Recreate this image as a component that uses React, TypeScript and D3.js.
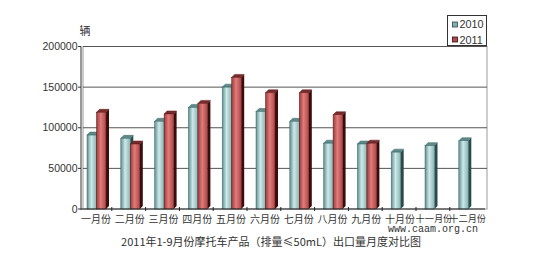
import React from "react";
import * as d3 from "d3";

const categories = [
  "一月份", "二月份", "三月份", "四月份", "五月份", "六月份",
  "七月份", "八月份", "九月份", "十月份", "十一月份", "十二月份",
];
const values2010 = [91000, 87000, 108000, 125000, 150000, 120000, 108000, 81000, 80000, 70000, 78000, 84000];
const values2011 = [119000, 80000, 117000, 130000, 162000, 143000, 143000, 116000, 81000];
const yTicks = [0, 50000, 100000, 150000, 200000];
const seriesNames = ["2010", "2011"];
const unitLabel = "辆";
const title = "2011年1-9月份摩托车产品（排量≤50mL）出口量月度对比图";
const sourceText = "www.caam.org.cn";

const W = 538;
const H = 260;
const DEPTH = 3;
const BAR_W = 9.5;

type BarProps = { x: number; top: number; base: number; kind: "teal" | "red" };

function Bar3D({ x, top, base, kind }: BarProps) {
  const d = DEPTH;
  const w = BAR_W;
  const side = kind === "teal" ? "#2c4a4a" : "#3a0c0c";
  const cap = kind === "teal" ? "#5d8a8a" : "#7a2a2a";
  const fill = kind === "teal" ? "url(#gTeal)" : "url(#gRed)";
  const stroke = kind === "teal" ? "#3d6464" : "#5a1818";
  return (
    <g>
      <polygon
        points={`${x + w},${top} ${x + w + d},${top - d} ${x + w + d},${base - d} ${x + w},${base}`}
        fill={side}
      />
      <polygon
        points={`${x},${top} ${x + d},${top - d} ${x + w + d},${top - d} ${x + w},${top}`}
        fill={cap}
        stroke={stroke}
        strokeWidth={0.5}
      />
      <rect x={x} y={top} width={w} height={base - top} fill={fill} stroke={stroke} strokeWidth={0.5} />
    </g>
  );
}

export default function App() {
  const x = d3.scaleBand<string>().domain(categories).range([80, 485.6]).padding(0);
  const y = d3.scaleLinear().domain([0, 200000]).range([209, 46.5]);
  const left = 81;
  const right = 487;
  const base = y(0);

  return (
    <svg
      width={W}
      height={H}
      style={{ position: "absolute", left: 0, top: 0, background: "#fff" }}
      fontFamily="'Liberation Sans', Arial, sans-serif"
    >
      <defs>
        <linearGradient id="gTeal" x1="0" x2="1" y1="0" y2="0">
          <stop offset="0" stopColor="#5e8e8f" />
          <stop offset="0.45" stopColor="#cfe8e8" />
          <stop offset="1" stopColor="#86b4b4" />
        </linearGradient>
        <linearGradient id="gRed" x1="0" x2="1" y1="0" y2="0">
          <stop offset="0" stopColor="#9c3a3a" />
          <stop offset="0.45" stopColor="#e07c7c" />
          <stop offset="1" stopColor="#b04646" />
        </linearGradient>
      </defs>

      {/* back wall with gridlines */}
      <rect x={left + 2} y={y(200000)} width={right - left - 2} height={base - y(200000)} fill="#fff" stroke="#999" strokeWidth={1} />
      {yTicks.filter((t) => t > 0).map((t) => (
        <line key={t} x1={left + 2} x2={right} y1={y(t)} y2={y(t)} stroke="#555" strokeWidth={1} />
      ))}

      {/* y axis */}
      <line x1={left} x2={left} y1={y(200000)} y2={base + 1} stroke="#333" strokeWidth={1} />
      {yTicks.map((t) => (
        <g key={t}>
          <line x1={left - 3} x2={left} y1={y(t)} y2={y(t)} stroke="#333" />
          <text x={left - 3.5} y={y(t)} dy="0.35em" textAnchor="end" fontSize={10.5} fill="#333">
            {t}
          </text>
        </g>
      ))}
      <text x={85} y={31} dy="0.35em" textAnchor="middle" fontSize={11} fill="#333" fontFamily="'Noto Sans CJK SC', sans-serif">
        {unitLabel}
      </text>

      {/* bars */}
      {categories.map((c, i) => {
        const bx = x(c)!;
        return (
          <g key={c}>
            <Bar3D x={bx + 7} top={y(values2010[i])} base={base} kind="teal" />
            {i < values2011.length && (
              <Bar3D x={bx + 16.5} top={y(values2011[i])} base={base} kind="red" />
            )}
          </g>
        );
      })}

      {/* x axis */}
      <line x1={left} x2={right - 2} y1={base} y2={base} stroke="#222" strokeWidth={1.2} />
      {categories.slice(1).map((c) => (
        <line key={c} x1={x(c)! - 2} x2={x(c)! - 2} y1={base - 2} y2={base + 2} stroke="#222" />
      ))}
      {categories.map((c) => (
        <text
          key={c}
          x={x(c)! + x.bandwidth() / 2 - 1}
          y={219}
          dy="0.35em"
          textAnchor="middle"
          fontSize={c.length > 3 ? 9.2 : 10}
          fill="#333"
          fontFamily="'Noto Sans CJK SC', sans-serif"
        >
          {c}
        </text>
      ))}

      {/* source and title */}
      <text x={388} y={228.5} dy="0.35em" fontSize={10} fill="#333" fontFamily="'Liberation Mono', monospace">
        {sourceText}
      </text>
      <text x={271} y={242.5} dy="0.35em" textAnchor="middle" fontSize={11} fill="#333" fontFamily="'Noto Sans CJK SC', sans-serif">
        {title}
      </text>

      {/* legend */}
      <rect x={447.5} y={15.5} width={39} height={30} fill="#fff" stroke="#333" strokeWidth={1} />
      {seriesNames.map((s, i) => (
        <g key={s}>
          <rect
            x={452.5}
            y={22 + i * 15}
            width={5}
            height={5}
            fill={i === 0 ? "#7fb0b0" : "#b04a4a"}
            stroke={i === 0 ? "#2c4a4a" : "#3a0c0c"}
            strokeWidth={0.8}
          />
          <text x={459.5} y={24.7 + i * 15.3} dy="0.35em" fontSize={10.8} fill="#333">
            {s}
          </text>
        </g>
      ))}
    </svg>
  );
}
